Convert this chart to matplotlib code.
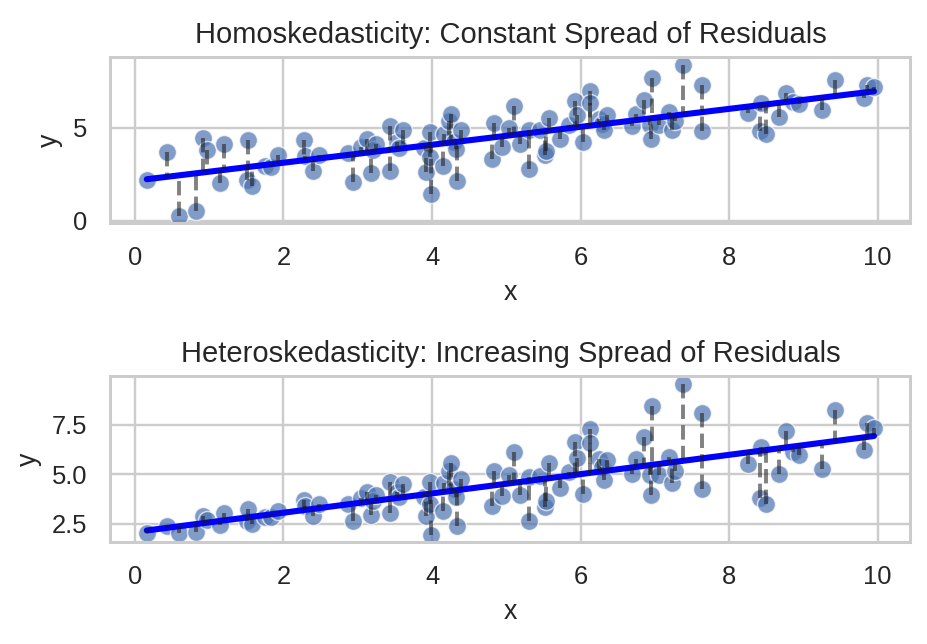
import numpy as np
import matplotlib
matplotlib.use("Agg")
import matplotlib.pyplot as plt
import seaborn as sns

# values
x = [0.16, 0.43, 0.59, 0.82, 0.92, 0.97, 1.15, 1.20, 1.51, 1.52,
     1.58, 1.75, 1.83, 1.93, 2.28, 2.29, 2.40, 2.48, 2.87, 2.93,
     3.04, 3.12, 3.18, 3.21, 3.25, 3.43, 3.44, 3.53, 3.55, 3.61,
     3.89, 3.92, 3.97, 3.97, 3.98, 4.15, 4.16, 4.23, 4.26, 4.29,
     4.32, 4.34, 4.39, 4.81, 4.83, 4.94, 5.03, 5.10, 5.19, 5.31,
     5.31, 5.45, 5.52, 5.54, 5.57, 5.72, 5.85, 5.93, 5.95, 6.03,
     6.12, 6.12, 6.25, 6.29, 6.32, 6.35, 6.69, 6.74, 6.86, 6.93,
     6.95, 6.96, 7.05, 7.19, 7.23, 7.27, 7.38, 7.63, 7.64, 8.26,
     8.42, 8.43, 8.49, 8.67, 8.76, 8.86, 8.94, 9.25, 9.43, 9.81,
     9.85, 9.95]

y_homo = [2.18, 3.70, 0.27, 0.52, 4.45, 3.82, 2.00, 4.14, 2.18, 4.32,
          1.86, 2.93, 2.86, 3.55, 4.32, 3.47, 2.68, 3.55, 3.61, 2.06,
          3.93, 4.36, 2.54, 3.79, 4.14, 5.07, 2.68, 4.23, 3.91, 4.86,
          3.88, 2.59, 4.77, 3.43, 1.43, 2.95, 4.64, 5.35, 5.75, 4.23,
          3.84, 2.13, 4.86, 3.29, 5.25, 3.96, 5.00, 6.14, 4.10, 4.86,
          2.77, 4.86, 3.52, 3.75, 5.51, 4.36, 5.12, 6.42, 5.66, 4.20,
          6.94, 6.32, 5.48, 5.21, 4.89, 5.66, 5.09, 5.71, 6.50, 5.12,
          4.36, 7.65, 5.12, 5.83, 4.86, 5.35, 8.37, 7.30, 4.80, 5.78,
          4.82, 6.32, 4.64, 5.57, 6.87, 6.37, 6.25, 5.93, 7.57, 6.58,
          7.30, 7.17]

y_hetero = [2.05, 2.41, 2.03, 2.08, 2.88, 2.72, 2.46, 3.03, 2.67, 3.25,
            2.50, 2.83, 2.83, 3.17, 3.72, 3.42, 2.92, 3.51, 3.51, 2.67,
            3.81, 4.09, 2.97, 3.67, 3.97, 4.59, 3.05, 4.09, 3.84, 4.51,
            3.87, 2.88, 4.59, 3.51, 1.96, 3.17, 4.54, 5.15, 5.55, 4.26,
            3.87, 2.41, 4.76, 3.39, 5.18, 3.92, 4.98, 6.14, 3.97, 4.88,
            2.67, 4.93, 3.37, 3.64, 5.55, 4.29, 5.10, 6.64, 5.82, 4.01,
            7.28, 6.58, 5.77, 5.35, 4.73, 5.72, 5.02, 5.77, 6.86, 4.98,
            3.96, 8.42, 4.98, 5.89, 4.56, 5.18, 9.55, 8.07, 4.26, 5.52,
            3.81, 6.39, 3.51, 5.02, 7.20, 6.14, 5.99, 5.27, 8.24, 6.22,
            7.58, 7.31]

titles = ["Homoskedasticity: Constant Spread of Residuals",
          "Heteroskedasticity: Increasing Spread of Residuals"]

sns.set_theme(style="whitegrid")
plt.rcParams['font.family'] = ['Liberation Sans', 'DejaVu Sans']

fig, axes = plt.subplots(2, 1, figsize=(928 / 175, 644 / 175))

xs = np.array(x)
for ax, ys, title in zip(axes, [y_homo, y_hetero], titles):
    ys = np.array(ys)
    slope, intercept = np.polyfit(xs, ys, 1)
    y_pred = intercept + slope * xs

    sns.scatterplot(x=xs, y=ys, ax=ax, color="#4c72b0", alpha=0.7, s=55)
    ax.plot(xs, y_pred, color="blue", linewidth=2.5)
    for xi, yi, pi in zip(xs, ys, y_pred):
        ax.plot([xi, xi], [yi, pi], "k--", alpha=0.55, linewidth=1.6)

    ax.set_title(title, fontsize=12)
    ax.set_xlabel("x", fontsize=11)
    ax.set_ylabel("y", fontsize=11)
    ax.tick_params(labelsize=10.5)

fig.subplots_adjust(left=0.119, right=0.981, top=0.911, bottom=0.158, hspace=0.925)
plt.savefig("out.png", dpi=175)
